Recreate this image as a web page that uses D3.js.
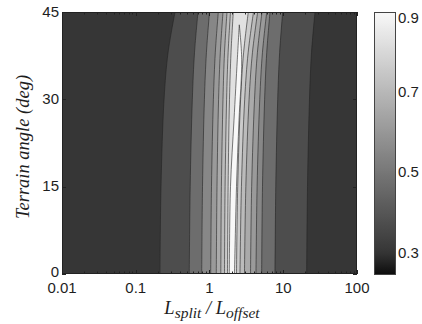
<!DOCTYPE html>
<html>
<head>
<meta charset="utf-8">
<script src="https://cdn.jsdelivr.net/npm/d3@7"></script>
<style>
  html, body { margin: 0; padding: 0; background: #fff; }
  svg { display: block; }
  text { fill: #1e1e1e; }
</style>
</head>
<body>
<svg id="chart" width="422" height="324"></svg>
<script>
// ---------------- data ----------------
const xTicks = [0.01, 0.1, 1, 10, 100];
const xTickLabels = ["0.01", "0.1", "1", "10", "100"];
const yTicks = [0, 15, 30, 45];
const cbTicks = [0.3, 0.4, 0.5, 0.6, 0.7, 0.8, 0.9];
const cbTickLabels = [0.3, 0.5, 0.7, 0.9];
const zMin = 0.244, zMax = 0.9;
const backgroundLevel = 0.30;

// contour levels (value inside each nested band)
const levels = [0.37, 0.47, 0.55, 0.61, 0.66, 0.71, 0.76, 0.83, 0.90];
// terrain angles at which each band edge was read
const edgeAngles = [
  [0, 15, 30, 38, 45],
  [0, 15, 30, 38, 45],
  [0, 15, 30, 38, 45],
  [0, 15, 30, 38, 45],
  [0, 15, 30, 38, 45],
  [0, 15, 30, 38, 45],
  [0, 15, 30, 38, 45],
  [0, 15, 30, 38, 45],
  [0, 15, 26.4, 36.8, 42.8]
];
// L_split / L_offset of the left edge of each band
const leftEdges = [
  [0.213, 0.220, 0.242, 0.274, 0.341],
  [0.532, 0.547, 0.585, 0.626, 0.698],
  [0.784, 0.804, 0.853, 0.908, 1.000],
  [1.038, 1.064, 1.129, 1.198, 1.316],
  [1.236, 1.264, 1.328, 1.401, 1.524],
  [1.423, 1.450, 1.524, 1.597, 1.727],
  [1.597, 1.627, 1.706, 1.788, 1.926],
  [1.754, 1.788, 1.867, 1.957, 2.102],
  [1.856, 1.926, 2.148, 2.382, 2.535]
];
// L_split / L_offset of the right edge of each band
const rightEdges = [
  [20.80, 21.32, 22.69, 24.16, 26.95],
  [7.73, 7.92, 8.41, 8.93, 9.83],
  [5.10, 5.23, 5.59, 5.97, 6.61],
  [4.27, 4.42, 4.80, 5.22, 5.97],
  [3.60, 3.73, 4.08, 4.46, 5.15],
  [2.98, 3.11, 3.44, 3.82, 4.50],
  [2.59, 2.71, 3.00, 3.34, 3.95],
  [2.323, 2.412, 2.641, 2.900, 3.358],
  [2.183, 2.323, 2.512, 2.733, 2.535]
];

// ---------------- layout ----------------
const svg = d3.select("#chart");
const plot = { left: 62, right: 357, top: 12, bottom: 274 };
const cb = { left: 374, right: 396, top: 12, bottom: 275 };

const x = d3.scaleLog().domain([0.01, 100]).range([plot.left, plot.right]);
const y = d3.scaleLinear().domain([0, 45]).range([plot.bottom, plot.top]);
const color = d3.scaleLinear().domain([zMin, 0.3, zMax])
  .range(["#0c0c0c", "#363636", "#f8f8f8"]);

svg.append("defs").append("clipPath").attr("id", "clip")
  .append("rect")
  .attr("x", plot.left).attr("y", plot.top)
  .attr("width", plot.right - plot.left).attr("height", plot.bottom - plot.top);

const g = svg.append("g").attr("clip-path", "url(#clip)");

// background (lowest band)
g.append("rect")
  .attr("x", plot.left).attr("y", plot.top)
  .attr("width", plot.right - plot.left).attr("height", plot.bottom - plot.top)
  .attr("fill", color(backgroundLevel));

const edgeLine = d3.line()
  .x(d => x(d[0])).y(d => y(d[1]))
  .curve(d3.curveCatmullRom.alpha(0.5));

levels.forEach((lv, k) => {
  const angs = edgeAngles[k];
  const leftPts = angs.map((a, i) => [leftEdges[k][i], a]);
  const rightPts = angs.map((a, i) => [rightEdges[k][i], a]).reverse();
  let p = edgeLine(leftPts);
  const r = edgeLine(rightPts);
  p += "L" + r.slice(1) + "Z";
  g.append("path")
    .attr("d", p)
    .attr("fill", color(lv))
    .attr("stroke", "#222")
    .attr("stroke-opacity", 0.85)
    .attr("stroke-width", 0.7)
    .attr("stroke-linejoin", "round");
});

// ---------------- axes ----------------
const axisColor = "#222";
svg.append("rect")
  .attr("x", plot.left + 0.5).attr("y", plot.top + 0.5)
  .attr("width", plot.right - plot.left - 1).attr("height", plot.bottom - plot.top - 1)
  .attr("fill", "none").attr("stroke", axisColor).attr("stroke-width", 1);

const minorTicks = [];
[0.01, 0.1, 1, 10].forEach(d => { for (let m = 2; m <= 9; m++) minorTicks.push(d * m); });

const ticksG = svg.append("g").attr("stroke", axisColor).attr("stroke-width", 1);
xTicks.forEach(t => {
  const px = Math.round(x(t)) + 0.5;
  ticksG.append("line").attr("x1", px).attr("x2", px).attr("y1", plot.bottom).attr("y2", plot.bottom - 4);
  ticksG.append("line").attr("x1", px).attr("x2", px).attr("y1", plot.top).attr("y2", plot.top + 4);
});
minorTicks.forEach(t => {
  const px = Math.round(x(t)) + 0.5;
  ticksG.append("line").attr("x1", px).attr("x2", px).attr("y1", plot.bottom).attr("y2", plot.bottom - 2.5);
  ticksG.append("line").attr("x1", px).attr("x2", px).attr("y1", plot.top).attr("y2", plot.top + 2.5);
});
yTicks.forEach(t => {
  const py = Math.round(y(t)) + 0.5;
  ticksG.append("line").attr("x1", plot.left).attr("x2", plot.left + 4).attr("y1", py).attr("y2", py);
  ticksG.append("line").attr("x1", plot.right).attr("x2", plot.right - 4).attr("y1", py).attr("y2", py);
});

const labelFont = "'Liberation Sans', Arial, sans-serif";
xTicks.forEach((t, i) => {
  svg.append("text")
    .attr("x", x(t)).attr("y", 293)
    .attr("text-anchor", "middle")
    .attr("font-family", labelFont).attr("font-size", 15)
    .text(xTickLabels[i]);
});
yTicks.forEach(t => {
  svg.append("text")
    .attr("x", 59).attr("y", y(t) + (t === 0 ? 2.5 : 4.5))
    .attr("text-anchor", "end")
    .attr("font-family", labelFont).attr("font-size", 15)
    .text(t);
});

// axis titles
const serif = "'Liberation Serif', 'Times New Roman', serif";
const xt = svg.append("text")
  .attr("x", 212).attr("y", 314)
  .attr("text-anchor", "middle")
  .attr("font-family", serif).attr("font-style", "italic").attr("font-size", 18.5);
xt.append("tspan").text("L");
xt.append("tspan").attr("font-size", 15.5).attr("dy", 3.5).text("split");
xt.append("tspan").attr("dy", -3.5).text(" / L");
xt.append("tspan").attr("font-size", 15.5).attr("dy", 3.5).text("offset");

svg.append("text")
  .attr("transform", "translate(29,147) rotate(-90)")
  .attr("text-anchor", "middle")
  .attr("font-family", serif).attr("font-style", "italic").attr("font-size", 18.5)
  .text("Terrain angle (deg)");

// ---------------- colorbar ----------------
const cy = d3.scaleLinear().domain([zMin, zMax]).range([cb.bottom, cb.top]);
const grad = svg.select("defs").append("linearGradient")
  .attr("id", "cbgrad").attr("x1", 0).attr("x2", 0).attr("y1", 1).attr("y2", 0);
d3.range(0, 1.0001, 0.02).forEach(f => {
  const v = zMin + f * (zMax - zMin);
  grad.append("stop").attr("offset", f).attr("stop-color", color(v));
});
svg.append("rect")
  .attr("x", cb.left + 0.5).attr("y", cb.top + 0.5)
  .attr("width", cb.right - cb.left - 1).attr("height", cb.bottom - cb.top - 1)
  .attr("fill", "url(#cbgrad)")
  .attr("stroke", "#444").attr("stroke-width", 1);

cbTicks.forEach(t => {
  const py = Math.round(cy(t)) + 0.5;
  ticksG.append("line").attr("x1", cb.left).attr("x2", cb.left + 3).attr("y1", py).attr("y2", py).attr("stroke", "#333");
  ticksG.append("line").attr("x1", cb.right).attr("x2", cb.right - 3).attr("y1", py).attr("y2", py).attr("stroke", "#333");
});
cbTickLabels.forEach(t => {
  svg.append("text")
    .attr("x", 398).attr("y", Math.max(cy(t) + 5, 23))
    .attr("font-family", labelFont).attr("font-size", 15)
    .text(d3.format(".1f")(t));
});
</script>
</body>
</html>
